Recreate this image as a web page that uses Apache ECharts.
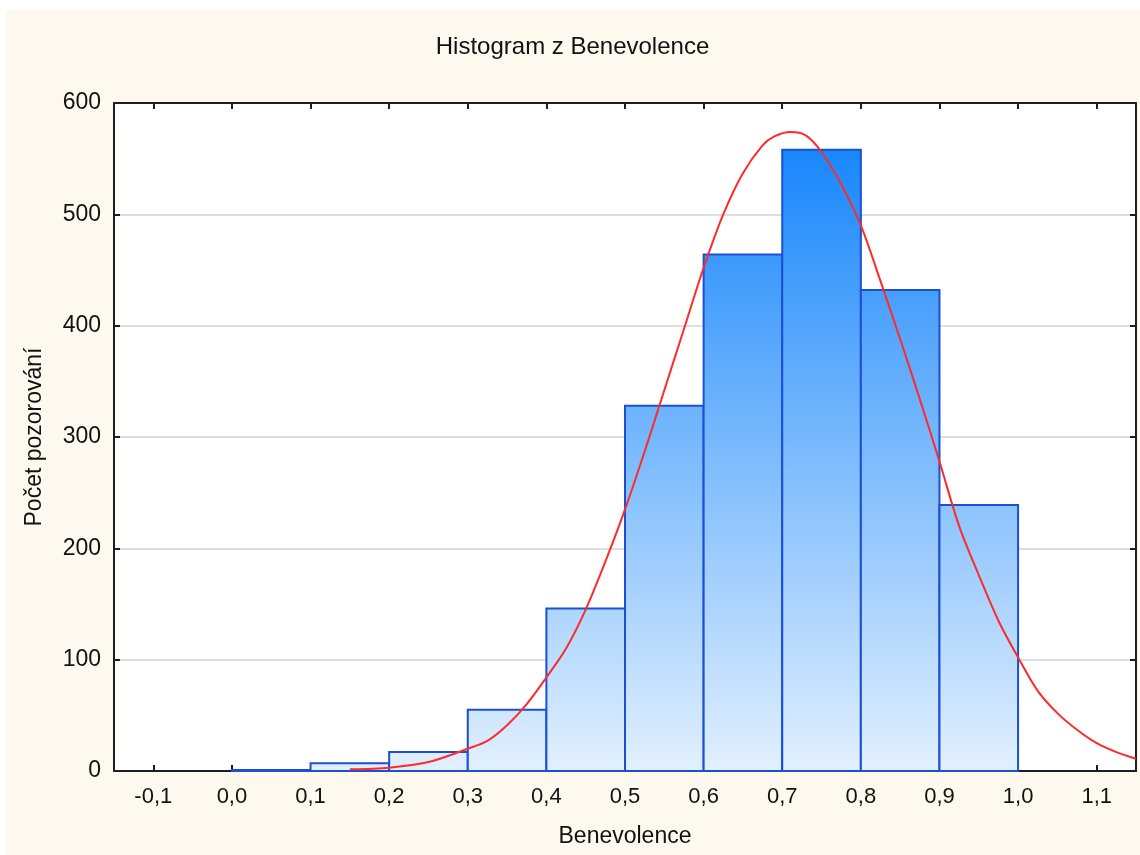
<!DOCTYPE html>
<html>
<head>
<meta charset="utf-8">
<script src="https://cdn.jsdelivr.net/npm/echarts@6/dist/echarts.min.js"></script>
<style>
  html, body { margin: 0; padding: 0; background: #ffffff; }
  #chart { position: absolute; left: 5px; top: 10px; width: 1135px; height: 845px; background: #fef9ee; }
</style>
</head>
<body>
<div id="chart"></div>
<script>
// Histogram bins (lower edge, upper edge) and counts
const binStarts = [0.0, 0.1, 0.2, 0.3, 0.4, 0.5, 0.6, 0.7, 0.8, 0.9];
const binEnds   = [0.1, 0.2, 0.3, 0.4, 0.5, 0.6, 0.7, 0.8, 0.9, 1.0];
const counts    = [1, 7, 17, 55, 146, 328, 464, 558, 432, 239];

// Fitted normal curve
const curveX = [0.15, 0.2, 0.25, 0.3, 0.325, 0.35, 0.375, 0.4, 0.425, 0.45, 0.475, 0.5, 0.525, 0.55, 0.575, 0.6, 0.625, 0.65, 0.675, 0.69, 0.71, 0.73, 0.75, 0.775, 0.8, 0.825, 0.85, 0.875, 0.9, 0.925, 0.95, 0.975, 1.0, 1.025, 1.05, 1.075, 1.1, 1.125, 1.15];
const curveY = [1.5, 3, 8, 20, 27, 41, 60, 84, 110, 145, 188, 235, 287, 342, 397, 452, 500, 537, 562, 570, 574, 571, 556, 527, 490, 440, 388, 334, 278, 220, 176, 135, 102, 72, 52, 37, 25, 17, 11];

// Tick values
const xTicks = [-0.1, 0.0, 0.1, 0.2, 0.3, 0.4, 0.5, 0.6, 0.7, 0.8, 0.9, 1.0, 1.1];
const yTicks = [0, 100, 200, 300, 400, 500, 600];

const FONT = 'Liberation Sans, Arial, sans-serif';
const chart = echarts.init(document.getElementById('chart'), null, { renderer: 'canvas' });

const gridTop = 93, gridBottom = 84;
const barFill = new echarts.graphic.LinearGradient(0, gridTop, 0, 845 - gridBottom, [
  { offset: 0, color: '#0a7ffb' },
  { offset: 1, color: '#e2f0fe' }
], true);

const barData = binStarts.map((s, i) => [s, binEnds[i], counts[i]]);
const curveData = curveX.map((x, i) => [x, curveY[i]]);

const axisLineStyle = { color: '#1e1e1e', width: 2 };
const tickStyle = { color: '#1e1e1e', width: 2 };

chart.setOption({
  backgroundColor: 'transparent',
  animation: false,
  title: {
    text: 'Histogram z Benevolence',
    left: 'center',
    top: 20,
    textStyle: { fontFamily: FONT, fontSize: 24, fontWeight: 'normal', color: '#111' }
  },
  grid: { left: 109, right: 4, top: gridTop, bottom: gridBottom, show: true, backgroundColor: '#ffffff', borderWidth: 0 },
  xAxis: [{
    type: 'value', min: -0.15, max: 1.15, position: 'bottom',
    name: 'Benevolence', nameLocation: 'middle', nameGap: 54,
    nameTextStyle: { fontFamily: FONT, fontSize: 23, color: '#111' },
    axisLine: { show: true, onZero: false, lineStyle: axisLineStyle },
    axisTick: { show: true, inside: true, length: 6, customValues: xTicks, lineStyle: tickStyle },
    axisLabel: { customValues: xTicks, margin: 15, fontFamily: FONT, fontSize: 22, color: '#111',
      formatter: v => v.toFixed(1).replace('.', ',') },
    splitLine: { show: false }
  }, {
    type: 'value', min: -0.15, max: 1.15, position: 'top',
    axisLine: { show: true, onZero: false, lineStyle: axisLineStyle },
    axisTick: { show: true, inside: true, length: 6, customValues: xTicks, lineStyle: tickStyle },
    axisLabel: { show: false },
    splitLine: { show: false }
  }],
  yAxis: [{
    type: 'value', min: 0, max: 600, interval: 100, position: 'left',
    name: 'Počet pozorování', nameLocation: 'middle', nameGap: 68, nameRotate: 90,
    nameTextStyle: { fontFamily: FONT, fontSize: 23, color: '#111' },
    axisLine: { show: true, onZero: false, lineStyle: axisLineStyle },
    axisTick: { show: true, inside: true, length: 6, lineStyle: tickStyle },
    axisLabel: { margin: 13, fontFamily: FONT, fontSize: 23, color: '#111' },
    splitLine: { show: true, lineStyle: { color: '#dedede', width: 2 } }
  }, {
    type: 'value', min: 0, max: 600, interval: 100, position: 'right',
    axisLine: { show: true, onZero: false, lineStyle: axisLineStyle },
    axisTick: { show: true, inside: true, length: 6, lineStyle: tickStyle },
    axisLabel: { show: false },
    splitLine: { show: false }
  }],
  series: [{
    type: 'custom',
    xAxisIndex: 0, yAxisIndex: 0,
    data: barData,
    encode: { x: [0, 1], y: 2 },
    renderItem: function (params, api) {
      const p0 = api.coord([api.value(0), api.value(2)]);
      const p1 = api.coord([api.value(1), 0]);
      return {
        type: 'rect',
        shape: { x: p0[0], y: p0[1], width: p1[0] - p0[0], height: p1[1] - p0[1] },
        style: { fill: barFill, stroke: '#1a4fd6', lineWidth: 2 }
      };
    },
    z: 2
  }, {
    type: 'line',
    xAxisIndex: 0, yAxisIndex: 0,
    data: curveData,
    smooth: 0.3,
    showSymbol: false,
    lineStyle: { color: '#ff2a2a', width: 2 },
    z: 3
  }]
});
</script>
</body>
</html>
